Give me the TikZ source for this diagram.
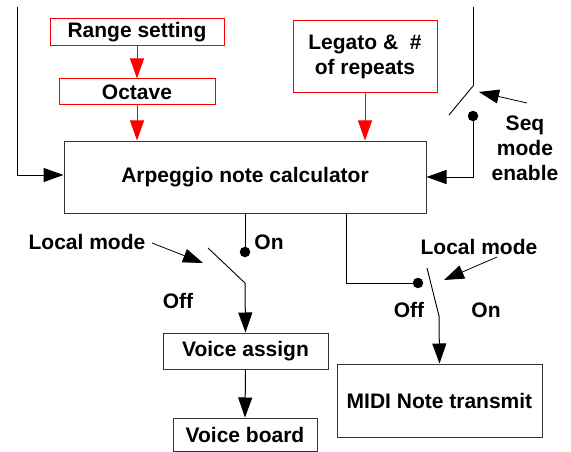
\documentclass[tikz,border=0pt]{standalone}
\usepackage{fontspec}
\setmainfont{Liberation Sans}
\usetikzlibrary{arrows.meta,calc}
\tikzset{
  box/.style={draw=black!80, line width=1pt, inner sep=0pt, align=center},
  redbox/.style={box, draw=red},
  lbl/.style={inner sep=0pt, anchor=base},
  arr/.style={line width=1pt, -{Triangle[length=20pt,width=14pt]}},
  redarr/.style={arr, draw=red, fill=red},
  wire/.style={line width=1pt},
  blade/.style={line width=0.9pt},
  contact/.style={circle, fill=black, inner sep=0pt, minimum size=10.5pt},
}
\begin{document}
\begin{tikzpicture}[x=1pt, y=-1pt, font=\fontsize{21}{24.5}\selectfont\bfseries]
\useasboundingbox (0,0) rectangle (571,452);

% blocks
\node[redbox, minimum width=174pt, minimum height=27pt] (range) at (137,32.5) {Range setting};
\node[redbox, minimum width=156pt, minimum height=26pt] (octave) at (137,92) {Octave};
\node[redbox, minimum width=144pt, minimum height=72pt] (legato) at (365,57) {Legato \&\ \ \#\\of repeats};
\node[box, minimum width=362pt, minimum height=72pt] (arp) at (245,177) {Arpeggio note calculator};
\node[box, minimum width=165pt, minimum height=36pt] (voice) at (245.5,351) {Voice assign};
\node[box, minimum width=144pt, minimum height=33pt] (board) at (245,434.5) {Voice board};
\node[box, minimum width=205pt, minimum height=73pt] (midi) at (439.5,400.5) {MIDI Note transmit};

% parameter inputs
\draw[redarr] (range.south) -- (octave.north);
\draw[redarr] (octave.south) -- (octave.south |- arp.north);
\draw[redarr] (legato.south) -- (legato.south |- arp.north);

% input from above, left side
\coordinate (lin) at (17,7);
\draw[arr] (lin) |- ([yshift=2pt]arp.west);

% sequencer mode switch
\coordinate (sqtop) at (473,7);
\coordinate (sqhinge) at (473,86);
\coordinate (sqblade) at (449,115);
\node[contact] (sqdot) at (473,116) {};
\draw[wire] (sqtop) -- (sqhinge);
\draw[blade] (sqhinge) -- (sqblade);
\draw[arr] (sqdot) |- (arp.east);
\coordinate (sqctl) at (527,103);
\coordinate (sqtip) at (479,92);
\draw[arr, line width=0.8pt] (sqctl) -- (sqtip);
\node[lbl] (seq1) at (525,131) {Seq};
\node[lbl] (seq2) at (525,156) {mode};
\node[lbl] (seq3) at (525,180.5) {enable};

% local mode switch to voice assign
\node[contact] (lmdot) at (245,252) {};
\draw[wire] (arp.south) -- (lmdot);
\coordinate (lmblade) at (208,248);
\coordinate (lmhinge) at (245,283);
\draw[blade] (lmblade) -- (lmhinge);
\draw[arr] (lmhinge) -- (voice.north);
\coordinate (lmctl) at (152,243);
\coordinate (lmtip) at (203,263);
\draw[arr, line width=0.8pt] (lmctl) -- (lmtip);
\node[lbl] (lmtext) at (87,249) {Local mode};
\node[lbl] (lmon) at (269,249) {On};
\node[lbl] (lmoff) at (178,308) {Off};

\draw[arr] (voice.south) -- (board.north);

% local mode switch to MIDI transmit
\node[contact] (mxdot) at (418,283) {};
\draw[wire] ($(arp.south)+(101,0)$) |- (mxdot);
\coordinate (mxblade) at (427,268);
\coordinate (mxhinge) at (439,316);
\draw[blade] (mxblade) -- (mxhinge);
\draw[arr] (mxhinge) -- (midi.north);
\coordinate (mxctl) at (497,257);
\coordinate (mxtip) at (444,280);
\draw[arr, line width=0.8pt] (mxctl) -- (mxtip);
\node[lbl] (mxtext) at (479,254) {Local mode};
\node[lbl] (mxoff) at (409,317) {Off};
\node[lbl] (mxon) at (486,317) {On};
\end{tikzpicture}
\end{document}
